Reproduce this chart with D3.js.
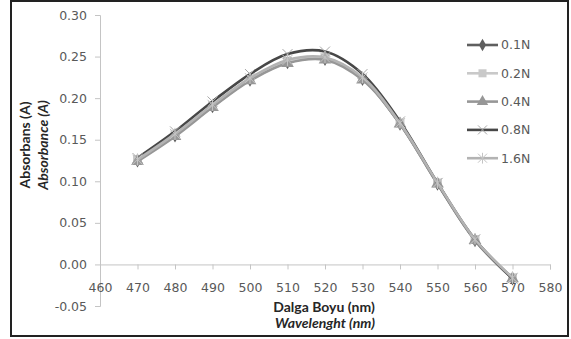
<!DOCTYPE html>
<html>
<head>
<meta charset="utf-8">
<script src="https://cdn.jsdelivr.net/npm/d3@7"></script>
<style>
  html, body { margin: 0; padding: 0; background: #fff; }
  svg { display: block; }
</style>
</head>
<body>
<div id="chart"></div>
<script>
// wavelengths (nm)
const wavelengths = [470, 480, 490, 500, 510, 520, 530, 540, 550, 560, 570];

// absorbance per concentration
const abs01 = [0.125, 0.155, 0.190, 0.222, 0.243, 0.247, 0.223, 0.169, 0.097, 0.029, -0.017];
const abs02 = [0.126, 0.156, 0.191, 0.223, 0.244, 0.248, 0.224, 0.170, 0.098, 0.030, -0.016];
const abs04 = [0.124, 0.154, 0.189, 0.221, 0.242, 0.246, 0.222, 0.169, 0.097, 0.029, -0.017];
const abs08 = [0.128, 0.160, 0.196, 0.229, 0.253, 0.256, 0.229, 0.172, 0.098, 0.030, -0.017];
const abs16 = [0.126, 0.157, 0.192, 0.224, 0.246, 0.249, 0.225, 0.170, 0.098, 0.030, -0.016];

const seriesNames = ["0.1N", "0.2N", "0.4N", "0.8N", "1.6N"];
const seriesValues = [abs01, abs02, abs04, abs08, abs16];
const seriesColors = ["#5f5f5f", "#c9c9c9", "#979797", "#474747", "#b3b3b3"];
const markerColors = ["#5f5f5f", "#c9c9c9", "#979797", "#a8a8a8", "#c4c4c4"];
const seriesMarkers = ["diamond", "square", "triangle", "times", "star"];

const xTicks = [460, 470, 480, 490, 500, 510, 520, 530, 540, 550, 560, 570, 580];
const yTicks = [-0.05, 0.00, 0.05, 0.10, 0.15, 0.20, 0.25, 0.30];

const width = 571, height = 339;

const svg = d3.select("#chart").append("svg")
  .attr("width", width)
  .attr("height", height);

// outer frame
svg.append("rect")
  .attr("x", 11).attr("y", 1)
  .attr("width", 557).attr("height", 335)
  .attr("fill", "#fff")
  .attr("stroke", "#222").attr("stroke-width", 2);

const xScale = d3.scaleLinear().domain([460, 580]).range([100, 550]);
const yScale = d3.scaleLinear().domain([-0.05, 0.30]).range([306, 15]);

// y axis
const yAxis = svg.append("g")
  .attr("transform", `translate(${xScale(460)},0)`)
  .call(d3.axisLeft(yScale).tickValues(yTicks).tickSize(5).tickPadding(8)
    .tickFormat(d => d.toFixed(2)));

// x axis at zero
const xAxis = svg.append("g")
  .attr("transform", `translate(0,${yScale(0)})`)
  .call(d3.axisBottom(xScale).tickValues(xTicks).tickSize(5).tickPadding(14)
    .tickFormat(d3.format("d")));

[xAxis, yAxis].forEach(ax => {
  ax.select(".domain").attr("stroke", "#c4c4c4");
  ax.selectAll(".tick line").attr("stroke", "#c4c4c4");
  ax.selectAll(".tick text")
    .attr("fill", "#595959")
    .style("font-family", "'DejaVu Sans', sans-serif")
    .style("font-size", "12.5px");
});

// markers
function markerPath(type, size) {
  const s = size;
  if (type === "diamond") return d3.symbol(d3.symbolDiamond, s * s * 0.55)();
  if (type === "square") return d3.symbol(d3.symbolSquare, s * s * 0.8)();
  if (type === "triangle") return d3.symbol(d3.symbolTriangle, s * s * 0.7)();
  const h = s / 2;
  if (type === "times") return `M${-h},${-h}L${h},${h}M${-h},${h}L${h},${-h}`;
  // asterisk
  return `M${-h},${-h}L${h},${h}M${-h},${h}L${h},${-h}M0,${-h * 1.2}L0,${h * 1.2}`;
}
const filled = t => t === "diamond" || t === "square" || t === "triangle";

const line = d3.line()
  .x((d, i) => xScale(wavelengths[i]))
  .y(d => yScale(d))
  .curve(d3.curveCatmullRom.alpha(0.5));

const plot = svg.append("g");
seriesValues.forEach((vals, k) => {
  const g = plot.append("g");
  g.append("path")
    .attr("d", line(vals))
    .attr("fill", "none")
    .attr("stroke", seriesColors[k])
    .attr("stroke-width", 2.6);
  g.selectAll("path.m")
    .data(vals)
    .join("path")
    .attr("class", "m")
    .attr("transform", (d, i) => `translate(${xScale(wavelengths[i])},${yScale(d)})`)
    .attr("d", markerPath(seriesMarkers[k], 10))
    .attr("fill", filled(seriesMarkers[k]) ? markerColors[k] : "none")
    .attr("stroke", markerColors[k])
    .attr("stroke-width", filled(seriesMarkers[k]) ? 0 : 1);
});

// legend
const legend = svg.append("g");
seriesNames.forEach((name, k) => {
  const y = 45 + k * 28.3;
  const g = legend.append("g").attr("transform", `translate(0,${y})`);
  g.append("line")
    .attr("x1", 467).attr("x2", 498)
    .attr("stroke", seriesColors[k]).attr("stroke-width", 2.6);
  g.append("path")
    .attr("transform", "translate(482.5,0)")
    .attr("d", markerPath(seriesMarkers[k], 9))
    .attr("fill", filled(seriesMarkers[k]) ? markerColors[k] : "none")
    .attr("stroke", markerColors[k])
    .attr("stroke-width", filled(seriesMarkers[k]) ? 0 : 1);
  g.append("text")
    .attr("x", 501).attr("dy", "0.35em")
    .attr("fill", "#595959")
    .style("font-family", "'DejaVu Sans', sans-serif")
    .style("font-size", "12.5px")
    .text(name);
});

// axis titles
const titleFont = "Lato, 'Open Sans', sans-serif";
svg.append("text")
  .attr("x", 324).attr("y", 312)
  .attr("text-anchor", "middle")
  .attr("fill", "#262626")
  .style("font-family", titleFont).style("font-weight", "bold").style("font-size", "14px")
  .text("Dalga Boyu (nm)");
svg.append("text")
  .attr("x", 325).attr("y", 328)
  .attr("text-anchor", "middle")
  .attr("fill", "#262626")
  .style("font-family", titleFont).style("font-weight", "bold").style("font-style", "italic")
  .style("font-size", "14px")
  .text("Wavelenght (nm)");

svg.append("text")
  .attr("transform", "translate(30,145) rotate(-90)")
  .attr("text-anchor", "middle")
  .attr("fill", "#262626")
  .style("font-family", titleFont).style("font-weight", "bold").style("font-size", "14px")
  .text("Absorbans (A)");
svg.append("text")
  .attr("transform", "translate(48,145) rotate(-90)")
  .attr("text-anchor", "middle")
  .attr("fill", "#262626")
  .style("font-family", titleFont).style("font-weight", "bold").style("font-style", "italic")
  .style("font-size", "14px")
  .text("Absorbance (A)");
</script>
</body>
</html>
